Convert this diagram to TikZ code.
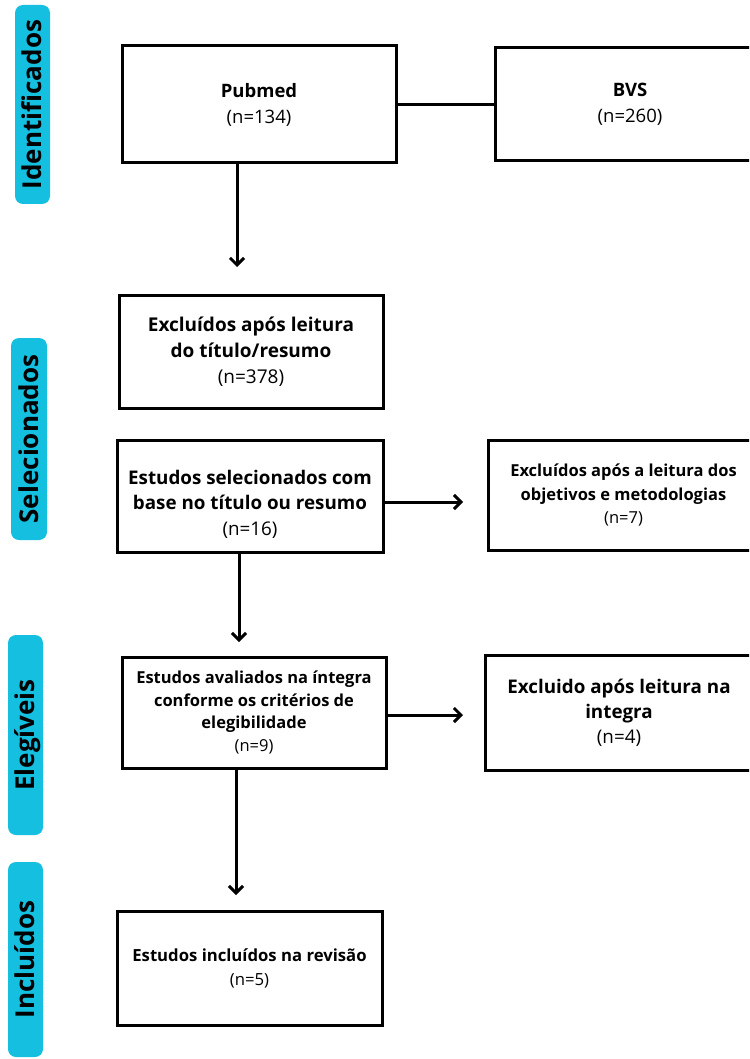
\documentclass[tikz,border=0pt]{standalone}
\usepackage{fontspec}
\setmainfont{Open Sans}
\usetikzlibrary{arrows.meta}
\definecolor{tagcyan}{HTML}{14BFE0}
\newcommand{\fsz}[2]{\fontsize{#1}{#2}\selectfont}
\begin{document}
\begin{tikzpicture}[x=1pt,y=-1pt,
  box/.style={draw=black,line width=3pt,rectangle,align=center,inner sep=0pt},
  tag/.style={fill=tagcyan,rounded corners=8pt,rotate=90,
    font=\bfseries\fsz{26}{30},text height=18.5pt,text depth=0pt,inner sep=0pt},
  arr/.style={line width=3pt,-{Straight Barb[length=7pt,width=14pt]}},
  conn/.style={line width=3pt},
]
\useasboundingbox (0,0) rectangle (749,1059);
\clip (0,0) rectangle (749,1059);

% side tags
\node[tag,minimum width=199pt,minimum height=35pt] (t1) at (32.5,104.5) {Identificados};
\node[tag,minimum width=202pt,minimum height=36pt] (t2) at (29,439) {Selecionados};
\node[tag,minimum width=200pt,minimum height=35pt] (t3) at (25.5,735) {Elegíveis};
\node[tag,minimum width=195pt,minimum height=35pt] (t4) at (25.5,959.5) {Incluídos};

% boxes
\node[box,minimum width=274pt,minimum height=117pt,font=\fsz{18.5}{26}] (pub) at (259,104.5)
  {\textbf{Pubmed}\\(n=134)};
\node[box,minimum width=270pt,minimum height=113pt,font=\fsz{18.5}{26}] (bvs) at (630,104.5)
  {\textbf{BVS}\\(n=260)};
\node[box,minimum width=264pt,minimum height=113pt,font=\fsz{19}{26}] (ex1) at (251,351.5)
  {\textbf{Excluídos após leitura}\\\textbf{do título/resumo}\\(n=378)};
\node[box,minimum width=266pt,minimum height=112pt] (sel) at (250,496) {};
\node[align=center,inner sep=0pt,font=\fsz{18.8}{25.5}] (selt) at (250,504)
  {\textbf{Estudos selecionados com}\\\textbf{base no título ou resumo}\\(n=16)};
\node[box,minimum width=271pt,minimum height=110pt,font=\fsz{16.5}{23.5}] (rex1) at (623.5,495)
  {\textbf{Excluídos após a leitura dos}\\\textbf{objetivos e metodologias}\\(n=7)};
\node[box,minimum width=264pt,minimum height=111pt,font=\fsz{16.5}{22.5}] (ava) at (254,712.5)
  {\textbf{Estudos avaliados na íntegra}\\\textbf{conforme os critérios de}\\\textbf{elegibilidade}\\(n=9)};
\node[box,minimum width=268pt,minimum height=115pt,font=\fsz{18.8}{25}] (rex2) at (619,712.5)
  {\textbf{Excluido após leitura na}\\\textbf{integra}\\(n=4)};
\node[box,minimum width=265pt,minimum height=114pt,font=\fsz{16.7}{24}] (inc) at (249.5,968)
  {\textbf{Estudos incluídos na revisão}\\(n=5)};

% connector ends
\coordinate (a1) at (237,267);
\coordinate (a2) at (463,502);
\coordinate (a3) at (239,642);
\coordinate (a4) at (463,715);
\coordinate (a5) at (236,895);

\draw[conn] (pub.east) -- (bvs.west);
\draw[arr] (pub.south -| a1) -- (a1);
\draw[arr] (sel.east |- a2) -- (a2);
\draw[arr] (sel.south -| a3) -- (a3);
\draw[arr] (ava.east |- a4) -- (a4);
\draw[arr] (ava.south -| a5) -- (a5);
\end{tikzpicture}
\end{document}
